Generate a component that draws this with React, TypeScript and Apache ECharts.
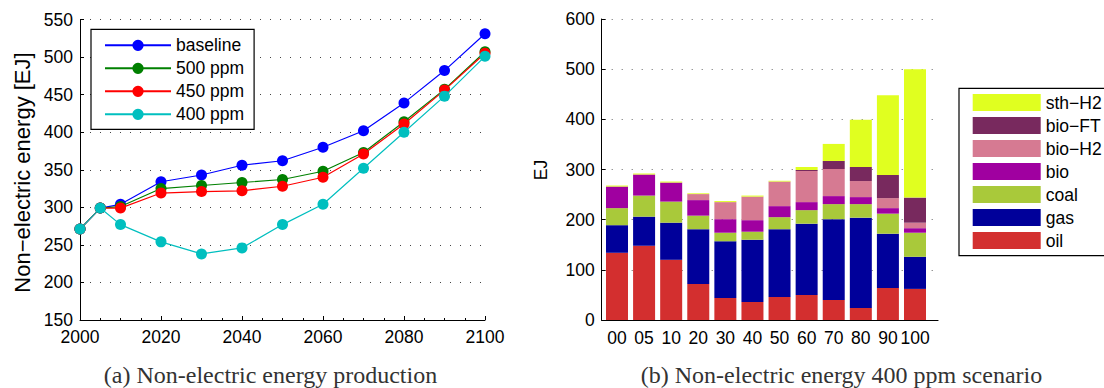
import React, { useEffect, useRef } from 'react';
import * as echarts from 'echarts';

// ---- left chart data ----
const years = [2000, 2005, 2010, 2020, 2030, 2040, 2050, 2060, 2070, 2080, 2090, 2100];
const baseline = [271, 299, 304, 334, 343, 356, 362, 380, 402, 439, 482, 531];
const ppm500 = [271, 299, 301, 325, 329, 333, 337, 348, 373, 414, 457, 507];
const ppm450 = [271, 299, 299, 319, 321, 322, 328, 340, 371, 411, 456, 505];
const ppm400 = [271, 299, 277, 254, 238, 246, 277, 304, 352, 400, 448, 501];
const lineNames = ['baseline', '500 ppm', '450 ppm', '400 ppm'];
const lineColors = ['#0000ff', '#008000', '#ff0000', '#00bfbf'];

// ---- right chart data ----
const barCategories = ['00', '05', '10', '20', '30', '40', '50', '60', '70', '80', '90', '100'];
const oil = [134, 148, 120, 72, 44, 36, 46, 50, 40, 24, 64, 62];
const gas = [55, 58, 74, 109, 113, 124, 135, 142, 161, 180, 108, 64];
const coal = [34, 42, 42, 27, 17, 16, 24, 27, 30, 27, 40, 48];
const bio = [43, 42, 38, 31, 27, 23, 22, 16, 16, 14, 11, 9];
const bioH2 = [0, 0, 0, 12, 34, 47, 49, 62, 54, 32, 20, 11];
const bioFT = [0, 0, 0, 0, 0, 0, 0, 2, 16, 28, 46, 50];
const sthH2 = [2, 2, 2, 1.5, 2, 2, 1.5, 6, 34, 94, 159, 256];
const barNames = ['oil', 'gas', 'coal', 'bio', 'bio−H2', 'bio−FT', 'sth−H2'];
const barColors = ['#d32f2f', '#00009a', '#a9c93a', '#a000a0', '#d67a92', '#78295e', '#e0ff20'];
const barLegendOrder = ['sth−H2', 'bio−FT', 'bio−H2', 'bio', 'coal', 'gas', 'oil'];

const SANS = 'Liberation Sans, Arial, Helvetica, sans-serif';
const SERIF = 'Liberation Serif, Times New Roman, serif';
const TICK_FS = 17.5;

export default function App() {
  const ref = useRef<HTMLDivElement>(null);
  useEffect(() => {
    if (!ref.current) return;
    const chart = echarts.init(ref.current, null, { renderer: 'svg' });
    const lineData = [baseline, ppm500, ppm450, ppm400];
    const barData = [oil, gas, coal, bio, bioH2, bioFT, sthH2];
    const dotted = { type: [1, 9] as any, color: '#444', width: 1 };

    const option: any = {
      animation: false,
      backgroundColor: '#fff',
      grid: [
        { left: 80, top: 19.5, width: 405, height: 300.5, containLabel: false },
        { left: 603.45, top: 19, width: 325.1, height: 301, containLabel: false },
        { left: 601.7, top: 19, width: 336.3, height: 301, containLabel: false },
      ],
      xAxis: [
        {
          type: 'value', gridIndex: 0, min: 2000, max: 2100, interval: 20,
          axisLine: { show: true, lineStyle: { color: '#000', width: 1 } },
          axisTick: { show: true, inside: true, length: 4, lineStyle: { color: '#000' } },
          minorTick: { show: true, splitNumber: 4, length: 2, lineStyle: { color: '#000' } },
          splitLine: { show: false },
          axisLabel: { fontSize: TICK_FS, fontFamily: SANS, color: '#000', margin: 8, formatter: (v: number) => String(v) },
        },
        {
          type: 'category', gridIndex: 1, data: barCategories, boundaryGap: true,
          axisLine: { show: false }, axisTick: { show: false }, splitLine: { show: false },
          axisLabel: { fontSize: TICK_FS, fontFamily: SANS, color: '#000', margin: 9, interval: 0 },
        },
        {
          type: 'value', gridIndex: 2, min: 0, max: 1,
          axisLine: { show: true, lineStyle: { color: '#000', width: 1.2 } },
          axisTick: { show: false }, axisLabel: { show: false }, splitLine: { show: false },
        },
      ],
      yAxis: [
        {
          type: 'value', gridIndex: 0, min: 150, max: 550, interval: 50,
          axisLine: { show: true, lineStyle: { color: '#000', width: 1 } },
          axisTick: { show: true, inside: true, length: 4, lineStyle: { color: '#000' } },
          splitLine: { show: true, lineStyle: dotted },
          axisLabel: { fontSize: TICK_FS, fontFamily: SANS, color: '#000', margin: 7 },
        },
        { type: 'value', gridIndex: 1, min: 0, max: 600, show: false },
        {
          type: 'value', gridIndex: 2, min: 0, max: 600, interval: 100,
          axisLine: { show: true, lineStyle: { color: '#000', width: 1 } },
          axisTick: { show: true, inside: true, length: 4, lineStyle: { color: '#000' } },
          splitLine: { show: true, lineStyle: { ...dotted, color: '#666' } },
          axisLabel: { fontSize: TICK_FS, fontFamily: SANS, color: '#000', margin: 7 },
        },
      ],
      legend: [
        {
          data: lineNames, orient: 'vertical', left: 91, top: 29.3,
          itemWidth: 66, itemHeight: 14, itemGap: 5,
          padding: [7, 10, 6, 13], borderColor: '#000', borderWidth: 1.2,
          backgroundColor: '#fff',
          textStyle: { fontSize: TICK_FS, fontFamily: SANS, color: '#000' },
        },
        {
          data: barLegendOrder, orient: 'vertical', left: 959, top: 88.3,
          itemWidth: 68, itemHeight: 17, itemGap: 5, icon: 'rect',
          padding: [5.3, 12, 6, 13.7], borderColor: '#000', borderWidth: 1.2,
          backgroundColor: '#fff',
          textStyle: { fontSize: TICK_FS, fontFamily: SANS, color: '#000' },
        },
      ],
      series: [
        ...lineNames.map((name, i) => ({
          name, type: 'line', xAxisIndex: 0, yAxisIndex: 0,
          data: years.map((y, j) => [y, lineData[i][j]]),
          symbol: 'circle', symbolSize: 11,
          lineStyle: { color: lineColors[i], width: 1.2 },
          itemStyle: { color: lineColors[i] },
          z: 3 + i,
        })),
        ...barNames.map((name, i) => ({
          name, type: 'bar', stack: 'total', xAxisIndex: 1, yAxisIndex: 1,
          data: barData[i], barWidth: 22,
          itemStyle: { color: barColors[i] },
        })),
      ],
      graphic: [
        {
          type: 'text', x: 22, y: 172.5, rotation: Math.PI / 2,
          style: { text: 'Non−electric energy [EJ]', fontSize: 22, fontFamily: SANS, fill: '#000', align: 'center', verticalAlign: 'middle' },
        },
        {
          type: 'text', x: 541, y: 170, rotation: Math.PI / 2,
          style: { text: 'EJ', fontSize: TICK_FS, fontFamily: SANS, fill: '#000', align: 'center', verticalAlign: 'middle' },
        },
        {
          type: 'text', x: 270.5, y: 375,
          style: { text: '(a) Non-electric energy production', fontSize: 24, fontFamily: SERIF, fill: '#333', align: 'center', verticalAlign: 'middle' },
        },
        {
          type: 'text', x: 841.5, y: 375,
          style: { text: '(b) Non-electric energy 400 ppm scenario', fontSize: 24, fontFamily: SERIF, fill: '#333', align: 'center', verticalAlign: 'middle' },
        },
      ],
    };
    chart.setOption(option);
    return () => chart.dispose();
  }, []);
  return <div ref={ref} style={{ position: 'absolute', left: 0, top: 0, width: 1104, height: 388 }} />;
}
